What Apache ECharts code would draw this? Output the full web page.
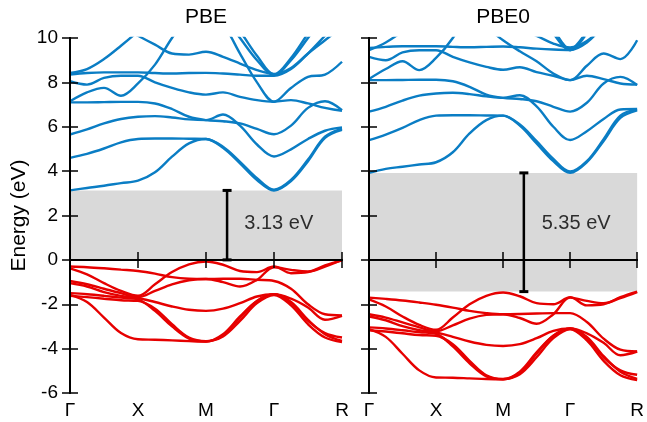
<!DOCTYPE html>
<html><head><meta charset="utf-8">
<script src="https://cdn.jsdelivr.net/npm/echarts@6/dist/echarts.min.js"></script>
<style>html,body{margin:0;padding:0;background:#fff}#c{width:647px;height:422px}</style>
</head><body><div id="c"></div>
<script>
const kPath = [0,0.25,0.5,0.75,1,1.25,1.5,1.75,2,2.25,2.5,2.75,3,3.25,3.5,3.75,4];
const kLabels = ['Γ','X','M','Γ','R'];
const panelTitles = ['PBE','PBE0'];

const pbeConduction = [
 [3.13,3.24,3.34,3.46,3.57,3.95,4.65,5.25,5.45,5.05,4.35,3.60,3.13,3.55,4.45,5.50,5.86],
 [4.60,4.78,5.02,5.30,5.45,5.47,5.47,5.46,5.45,5.10,4.42,3.68,3.16,3.60,4.52,5.55,5.92],
 [5.65,5.88,6.15,6.35,6.45,6.48,6.42,6.33,6.30,6.55,6.05,5.20,4.66,4.98,5.45,5.82,5.97],
 [7.10,7.10,7.11,7.12,7.12,7.05,6.80,6.45,6.30,6.25,6.15,5.90,5.66,6.05,6.85,7.15,6.75],
 [7.15,7.55,7.75,7.40,7.95,8.80,10.0,11.0,11.6,11.0,10.0,9.00,8.33,9.00,10.0,11.0,11.6],
 [8.05,7.90,8.20,8.30,8.30,8.00,7.75,7.55,7.45,7.55,7.35,7.20,7.13,7.20,7.05,6.85,6.72],
 [8.35,8.42,8.45,8.45,8.45,8.42,8.40,8.42,8.43,8.40,8.35,8.30,8.30,8.60,9.30,10.1,10.9],
 [8.42,8.60,9.05,9.65,10.3,11.0,11.8,12.2,12.0,11.2,10.3,9.20,8.36,9.10,10.2,11.2,12.0],
 [12.5,12.3,12.0,11.7,11.5,11.4,11.3,11.2,11.1,10.6,9.30,8.00,7.13,7.75,8.25,8.35,8.93],
 [12.0,11.5,11.0,10.5,10.1,9.70,9.30,9.25,9.38,9.15,8.85,8.55,8.38,8.65,9.30,9.90,10.5]
];
const pbeValence = [
 [-0.30,-0.33,-0.38,-0.44,-0.50,-0.62,-0.78,-0.85,-0.86,-0.85,-0.85,-0.90,-0.95,-1.30,-2.00,-2.45,-2.50],
 [-0.38,-0.65,-1.05,-1.40,-1.62,-1.10,-0.55,-0.20,-0.07,-0.22,-0.50,-0.55,-0.30,-0.60,-0.55,-0.25,-0.02],
 [-0.95,-1.10,-1.30,-1.50,-1.68,-1.40,-1.10,-0.92,-0.86,-1.00,-1.20,-0.90,-0.33,-0.45,-0.52,-0.30,0.00],
 [-1.05,-1.20,-1.45,-1.62,-1.72,-1.90,-2.10,-2.25,-2.30,-2.20,-1.95,-1.65,-1.55,-1.75,-2.15,-2.70,-2.52],
 [-1.50,-1.55,-1.62,-1.70,-1.78,-2.30,-3.00,-3.55,-3.68,-3.35,-2.55,-1.85,-1.55,-1.95,-2.75,-3.30,-3.50],
 [-1.58,-1.90,-2.60,-3.30,-3.58,-3.60,-3.63,-3.66,-3.68,-3.40,-2.60,-1.85,-1.55,-1.90,-2.70,-3.35,-3.65],
 [-1.62,-1.68,-1.75,-1.82,-1.85,-2.20,-2.90,-3.50,-3.66,-3.45,-2.75,-1.95,-1.58,-2.05,-2.90,-3.50,-3.70]
];
const pbe0Conduction = [
 [3.92,4.10,4.20,4.30,4.40,4.85,5.70,6.30,6.50,6.05,5.25,4.45,3.92,4.40,5.36,6.40,6.74],
 [5.40,5.65,5.95,6.30,6.50,6.52,6.52,6.51,6.50,6.10,5.35,4.55,3.98,4.45,5.44,6.50,6.78],
 [6.68,6.90,7.18,7.40,7.50,7.53,7.47,7.37,7.30,7.42,6.92,6.00,5.40,5.80,6.35,6.78,6.80],
 [8.10,8.10,8.11,8.12,8.12,8.05,7.80,7.45,7.30,7.25,7.15,6.90,6.68,7.08,7.95,8.25,7.88],
 [8.15,8.60,8.95,8.55,9.10,10.0,11.3,12.4,13.0,12.4,11.3,10.2,9.45,10.2,11.3,12.4,13.0],
 [9.15,9.00,9.35,9.45,9.45,9.15,8.90,8.70,8.57,8.68,8.46,8.30,8.10,8.30,8.15,7.95,7.90],
 [9.55,9.60,9.63,9.63,9.63,9.60,9.58,9.60,9.62,9.58,9.52,9.48,9.46,9.80,10.55,11.4,12.3],
 [9.45,9.80,10.3,10.9,11.6,12.4,13.2,13.6,13.4,12.6,11.6,10.4,9.50,10.3,11.5,12.6,13.4],
 [13.0,12.8,12.5,12.2,11.9,11.6,11.2,10.5,9.90,9.40,8.95,8.40,8.10,8.75,9.30,9.05,9.90],
 [13.4,12.9,12.4,11.8,11.4,11.0,10.55,10.5,10.6,10.4,10.1,9.75,9.57,9.86,10.55,11.2,11.8]
];
const pbe0Valence = [
 [-1.70,-1.76,-1.83,-1.92,-2.02,-2.15,-2.30,-2.40,-2.45,-2.44,-2.42,-2.40,-2.40,-2.80,-3.55,-4.05,-4.13],
 [-1.78,-2.10,-2.55,-2.93,-3.15,-2.60,-2.00,-1.62,-1.47,-1.64,-1.95,-2.00,-1.68,-2.05,-2.00,-1.68,-1.43],
 [-2.45,-2.60,-2.82,-3.04,-3.22,-2.95,-2.65,-2.48,-2.45,-2.62,-2.88,-2.45,-1.70,-1.85,-1.95,-1.72,-1.45],
 [-2.55,-2.72,-2.99,-3.17,-3.27,-3.47,-3.68,-3.83,-3.88,-3.80,-3.53,-3.20,-3.09,-3.31,-3.74,-4.30,-4.13],
 [-3.04,-3.09,-3.17,-3.26,-3.33,-3.90,-4.66,-5.25,-5.38,-5.04,-4.17,-3.42,-3.09,-3.53,-4.39,-4.98,-5.18],
 [-3.12,-3.47,-4.23,-4.98,-5.30,-5.31,-5.34,-5.37,-5.38,-5.09,-4.23,-3.42,-3.09,-3.47,-4.34,-5.04,-5.36],
 [-3.17,-3.23,-3.31,-3.39,-3.42,-3.80,-4.55,-5.20,-5.37,-5.15,-4.39,-3.53,-3.13,-3.63,-4.55,-5.20,-5.42]
];
const gapVBM = [0, -1.43];
const gapCBM = [3.13, 3.92];
const gapBarK = [2.31, 2.31];
const gapLabels = ['3.13 eV', '5.35 eV'];
const gapLabelPos = [[3.07, 1.65], [3.09, 1.65]];

const BLUE = '#0a7dc4', RED = '#e60000';
const FONT = 'Liberation Sans, Arial, Helvetica, sans-serif';
const grids = [
  {left: 70, top: 38, width: 272, height: 355},
  {left: 369, top: 38, width: 272, height: 355}
];
const xAxes = [], yAxes = [], series = [];
const axisLine = {show: true, lineStyle: {color: '#000', width: 2}};
const tick = {inside: true, length: 8, lineStyle: {color: '#000', width: 1.5}};
[0,1].forEach(p => {
  xAxes.push({gridIndex: p, type: 'value', min: 0, max: 4, interval: 1, position: 'bottom', z: 5,
    axisLine, splitLine: {show: false}, axisTick: tick,
    axisLabel: {margin: 8, fontSize: 19, color: '#000', fontFamily: FONT, showMinLabel: true, showMaxLabel: true,
      formatter: v => kLabels[Math.round(v)]}});
  xAxes.push({gridIndex: p, type: 'value', min: 0, max: 4, interval: 1, position: 'top', z: 5,
    axisLine, splitLine: {show: false}, axisTick: tick,
    name: panelTitles[p], nameLocation: 'middle', nameGap: 10,
    nameTextStyle: {fontSize: 21, color: '#000', fontFamily: FONT},
    axisLabel: {show: false}});
  yAxes.push({gridIndex: p, type: 'value', min: -6, max: 10, interval: 2, position: 'left', z: 5,
    axisLine, splitLine: {show: false}, axisTick: tick,
    name: p === 0 ? 'Energy (eV)' : '', nameLocation: 'middle', nameGap: 40, nameRotate: 90,
    nameTextStyle: {fontSize: 21, color: '#000', fontFamily: FONT},
    axisLabel: {show: p === 0, margin: 12, fontSize: 19, color: '#000', fontFamily: FONT}});
  yAxes.push({gridIndex: p, type: 'value', min: -6, max: 10, interval: 2, position: 'right', z: 5,
    axisLine, splitLine: {show: false}, axisTick: tick, axisLabel: {show: false}});
});
function bandSeries(p, band, color) {
  return {type: 'line', xAxisIndex: p*2, yAxisIndex: p*2, z: 3, clip: true, silent: true,
    data: kPath.map((k, i) => [k, band[i]]), smooth: 0.35, showSymbol: false, symbol: 'none',
    lineStyle: {color, width: 2.4}};
}
[[pbeConduction, pbeValence], [pbe0Conduction, pbe0Valence]].forEach((pair, p) => {
  series.push({type: 'line', xAxisIndex: p*2, yAxisIndex: p*2, z: 1, data: [], silent: true,
    markArea: {silent: true, itemStyle: {color: '#d9d9d9'},
      data: [[{coord: [0, gapVBM[p]]}, {coord: [4, gapCBM[p]]}]]}});
  pair[0].forEach(b => series.push(bandSeries(p, b, BLUE)));
  pair[1].forEach(b => series.push(bandSeries(p, b, RED)));
  series.push({type: 'line', xAxisIndex: p*2, yAxisIndex: p*2, z: 4, silent: true,
    data: [[gapBarK[p], gapVBM[p]], [gapBarK[p], gapCBM[p]]],
    symbol: 'rect', symbolSize: [9, 3], showSymbol: true, showAllSymbol: true,
    itemStyle: {color: '#000'}, lineStyle: {color: '#000', width: 2.5}});
  series.push({type: 'scatter', xAxisIndex: p*2, yAxisIndex: p*2, z: 4, silent: true,
    data: [gapLabelPos[p]], symbolSize: 0,
    label: {show: true, position: 'inside', formatter: gapLabels[p], fontSize: 20, color: '#000', fontFamily: FONT}});
});
const chart = echarts.init(document.getElementById('c'), null, {renderer: 'canvas'});
chart.setOption({animation: false, backgroundColor: '#fff', grid: grids, xAxis: xAxes, yAxis: yAxes, series});
</script></body></html>
